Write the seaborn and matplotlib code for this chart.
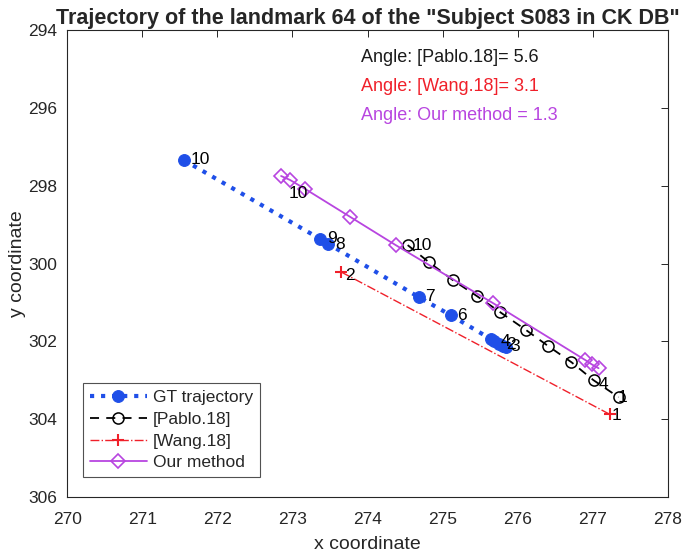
import pandas as pd
import matplotlib.pyplot as plt
import seaborn as sns

# Point numbers and coordinates
gt_ids = [10, 9, 8, 7, 6, 5, 4, 2, 3, 1]
gt_x = [271.55, 273.37, 273.48, 274.68, 275.11, 275.645, 275.686, 275.753, 275.806, 275.846]
gt_y = [297.34, 299.37, 299.50, 300.86, 301.33, 301.943, 301.995, 302.072, 302.123, 302.149]
# numbers that can be read beside the GT points (5 and 1 hide in the cluster)
gt_shown = [10, 9, 8, 7, 6, 4, 2, 3]

pablo_x = [274.535, 274.816, 275.137, 275.458, 275.766, 276.114, 276.408, 276.716, 277.010, 277.344]
pablo_y = [299.527, 299.964, 300.427, 300.838, 301.249, 301.712, 302.123, 302.535, 302.997, 303.434]

wang_x = [273.652, 277.224]
wang_y = [300.221, 303.871]

ours_x = [272.849, 272.970, 273.171, 273.773, 274.375, 275.672, 276.903, 276.983, 277.077]
ours_y = [297.753, 297.856, 298.087, 298.807, 299.527, 301.018, 302.483, 302.586, 302.689]

# labels that show up beside the other methods
pablo_labels = [('10', 274.60, 299.55), ('4', 277.08, 303.10), ('1', 277.33, 303.43)]
wang_labels = [('2', 273.70, 300.30), ('1', 277.25, 303.90)]
ours_labels = [('10', 272.95, 298.20)]

angles = ['Angle: [Pablo.18]= 5.6', 'Angle: [Wang.18]= 3.1', 'Angle: Our method = 1.3']
angle_colors = ['#1a1a1a', '#f0202a', '#b845e0']

gt = pd.DataFrame({'x': gt_x, 'y': gt_y})
pablo = pd.DataFrame({'x': pablo_x, 'y': pablo_y})
wang = pd.DataFrame({'x': wang_x, 'y': wang_y})
ours = pd.DataFrame({'x': ours_x, 'y': ours_y})

sns.set_theme(style='white')
plt.rcParams['font.family'] = ['Liberation Sans', 'DejaVu Sans']

fig, ax = plt.subplots(figsize=(6.85, 5.53), dpi=100)
fig.subplots_adjust(left=0.098, right=0.975, top=0.946, bottom=0.101)

sns.lineplot(data=gt, x='x', y='y', sort=False, ax=ax, color='#1f4fe8', lw=3,
             linestyle=':', marker='o', markersize=8.5, markeredgecolor='#1f4fe8',
             label='GT trajectory')
sns.lineplot(data=pablo, x='x', y='y', sort=False, ax=ax, color='black', lw=1.3,
             linestyle=(0, (5, 4)), marker='o', markersize=8, markerfacecolor='none',
             markeredgecolor='black', markeredgewidth=1.1, label='[Pablo.18]')
sns.lineplot(data=wang, x='x', y='y', sort=False, ax=ax, color='#f0202a', lw=1,
             linestyle='-.', marker='+', markersize=9, markeredgewidth=1.5,
             markeredgecolor='#f0202a', label='[Wang.18]')
sns.lineplot(data=ours, x='x', y='y', sort=False, ax=ax, color='#b845e0', lw=1.3,
             linestyle='-', marker='D', markersize=7, markerfacecolor='none',
             markeredgecolor='#b845e0', markeredgewidth=1.2, label='Our method')

for i, x, y in zip(gt_ids, gt_x, gt_y):
    if i in gt_shown:
        ax.text(x + 0.09, y, str(i), fontsize=12.5, va='center', ha='left', color='black')
for lab in pablo_labels + wang_labels + ours_labels:
    ax.text(lab[1], lab[2], lab[0], fontsize=12.5, va='center', ha='left', color='black')

for k, (t, c) in enumerate(zip(angles, angle_colors)):
    ax.text(273.92, 294.72 + k * 0.74, t, fontsize=13, color=c, va='center', ha='left')

ax.set_xlim(270, 278)
ax.set_ylim(306, 294)
ax.set_xticks(range(270, 279))
ax.set_yticks(range(294, 307, 2))
ax.tick_params(direction='in', top=True, right=True, labelsize=12.5, colors='#262626',
               length=5, width=0.7)
ax.tick_params(axis='x', pad=11)
ax.tick_params(axis='y', pad=7)
for s in ax.spines.values():
    s.set_color('#262626')
    s.set_linewidth(0.8)

ax.set_xlabel('x coordinate', fontsize=14, labelpad=6)
ax.set_ylabel('y coordinate', fontsize=14, labelpad=2)
ax.set_title('Trajectory of the landmark 64 of the "Subject S083 in CK DB"',
             fontsize=15.5, fontweight='bold', pad=4)

leg = ax.legend(loc='lower left', bbox_to_anchor=(0.02, 0.035), fontsize=12.5,
                handlelength=3.3, frameon=True, fancybox=False, edgecolor='#262626',
                borderpad=0.4, labelspacing=0.38, handletextpad=0.35,
                borderaxespad=0.2)
leg.get_frame().set_linewidth(0.8)

plt.savefig('out.png', dpi=100)
plt.close()
